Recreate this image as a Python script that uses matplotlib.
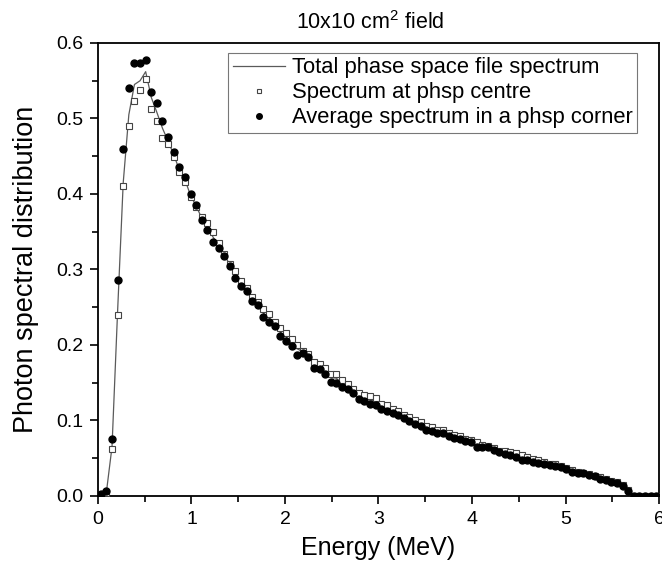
import numpy as np
import matplotlib
matplotlib.use('Agg')
import matplotlib.pyplot as plt

plt.rcParams.update({
    'font.family': ['Liberation Sans', 'DejaVu Sans'],
    'mathtext.default': 'regular',
})

# bin centres (MeV), 0.06 MeV wide bins from 0 to 6
energy = np.arange(0.03, 6.0, 0.06)

# total phase space file spectrum (line)
total = [
    0.000, 0.005, 0.065, 0.245, 0.415, 0.505, 0.545, 0.550, 0.562, 0.528,
    0.508, 0.487, 0.470, 0.452, 0.432, 0.419, 0.398, 0.384, 0.368, 0.356,
    0.343, 0.332, 0.320, 0.306, 0.294, 0.282, 0.274, 0.261, 0.255, 0.242,
    0.236, 0.228, 0.217, 0.211, 0.203, 0.195,
    0.191, 0.186, 0.174, 0.172, 0.166, 0.157, 0.156, 0.149, 0.145, 0.140,
    0.133, 0.130, 0.127, 0.126, 0.119, 0.116, 0.113, 0.110, 0.105, 0.102,
    0.098, 0.096, 0.090, 0.089, 0.086, 0.085, 0.082, 0.079, 0.077, 0.075,
    0.073, 0.068, 0.067, 0.066, 0.062, 0.059, 0.058, 0.056, 0.055, 0.051,
    0.050, 0.047, 0.046, 0.044, 0.042, 0.041, 0.039, 0.037, 0.033, 0.031,
    0.031, 0.029, 0.026, 0.024, 0.022, 0.020, 0.018, 0.014, 0.008,
    0.0, 0.0, 0.0, 0.0, 0.0,
]

# spectrum at phsp centre (open squares)
centre = [
    0.000, 0.004, 0.062, 0.240, 0.411, 0.490, 0.523, 0.538, 0.552, 0.513,
    0.496, 0.474, 0.466, 0.449, 0.429, 0.416, 0.396, 0.383, 0.370, 0.361,
    0.350, 0.335, 0.321, 0.307, 0.298, 0.285, 0.276, 0.264, 0.257, 0.247,
    0.241, 0.231, 0.222, 0.216, 0.208, 0.200,
    0.192, 0.188, 0.178, 0.175, 0.170, 0.162, 0.162, 0.153, 0.148, 0.142,
    0.137, 0.134, 0.132, 0.130, 0.122, 0.120, 0.115, 0.113, 0.107, 0.104,
    0.100, 0.098, 0.093, 0.091, 0.088, 0.087, 0.084, 0.081, 0.079, 0.076,
    0.074, 0.071, 0.068, 0.066, 0.063, 0.060, 0.059, 0.058, 0.057, 0.054,
    0.052, 0.049, 0.047, 0.045, 0.043, 0.042, 0.040, 0.037, 0.034, 0.032,
    0.031, 0.029, 0.026, 0.025, 0.022, 0.020, 0.018, 0.015, 0.008,
    0.0, 0.0, 0.0, 0.0, 0.0,
]

# average spectrum in a phsp corner (filled circles)
corner = [
    0.002, 0.007, 0.076, 0.286, 0.459, 0.541, 0.574, 0.574, 0.577, 0.535,
    0.520, 0.497, 0.475, 0.456, 0.436, 0.423, 0.400, 0.385, 0.366, 0.352,
    0.336, 0.329, 0.318, 0.305, 0.289, 0.278, 0.271, 0.258, 0.253, 0.237,
    0.230, 0.225, 0.212, 0.205, 0.198, 0.187,
    0.189, 0.184, 0.169, 0.168, 0.162, 0.151, 0.150, 0.145, 0.142, 0.137,
    0.128, 0.126, 0.122, 0.121, 0.115, 0.112, 0.110, 0.107, 0.103, 0.099,
    0.095, 0.093, 0.087, 0.086, 0.084, 0.083, 0.079, 0.077, 0.075, 0.073,
    0.071, 0.065, 0.065, 0.065, 0.061, 0.058, 0.056, 0.054, 0.052, 0.048,
    0.048, 0.045, 0.044, 0.043, 0.041, 0.040, 0.038, 0.036, 0.032, 0.030,
    0.030, 0.028, 0.026, 0.023, 0.021, 0.019, 0.017, 0.013, 0.007,
    0.0, 0.0, 0.0, 0.0, 0.0,
]

assert len(total) == len(centre) == len(corner) == len(energy)

fig = plt.figure(figsize=(6.62, 5.64), dpi=100)
ax = fig.add_axes([0.148, 0.1206, 0.8475, 0.8032])

ax.plot(energy, total, color='#5a5a5a', lw=0.9, zorder=2,
        label='Total phase space file spectrum')
ax.plot(energy, centre, ls='none', marker='s', ms=4.4, mfc='white',
        mec='#444444', mew=0.8, zorder=3, label='Spectrum at phsp centre')
ax.plot(energy, corner, ls='none', marker='o', ms=5.0, mfc='black',
        mec='black', zorder=4, label='Average spectrum in a phsp corner')

ax.set_xlim(0, 6)
ax.set_ylim(0, 0.6)
ax.set_xticks(np.arange(0, 7, 1))
ax.set_xticks(np.arange(0.5, 6, 1), minor=True)
ax.set_yticks(np.arange(0, 0.61, 0.1))
ax.set_yticks(np.arange(0.05, 0.6, 0.1), minor=True)
ax.set_xticklabels([str(v) for v in range(7)])
ax.set_yticklabels(['%.1f' % v for v in np.arange(0, 0.61, 0.1)])
ax.tick_params(which='both', direction='out', labelsize=14, width=1.2,
               top=False, right=False)
ax.tick_params(which='major', length=5.5, pad=5)
ax.tick_params(which='minor', length=4.5)
for s in ax.spines.values():
    s.set_linewidth(1.3)

ax.set_xlabel('Energy (MeV)', fontsize=18, labelpad=6)
ax.set_ylabel('Photon spectral distribution', fontsize=19.5, labelpad=12)
ax.set_title('10x10 cm$^{2}$ field', fontsize=15.5, pad=10, x=0.485)

leg = ax.legend(loc='upper right', bbox_to_anchor=(0.961, 0.978),
                borderaxespad=0, fontsize=15.8, frameon=True, fancybox=False,
                edgecolor='#777777', framealpha=1, handlelength=2.4,
                handletextpad=0.3, labelspacing=0.18, markerscale=0.8,
                borderpad=0.2)
leg.get_frame().set_linewidth(0.8)

fig.savefig('out.png', dpi=100)
